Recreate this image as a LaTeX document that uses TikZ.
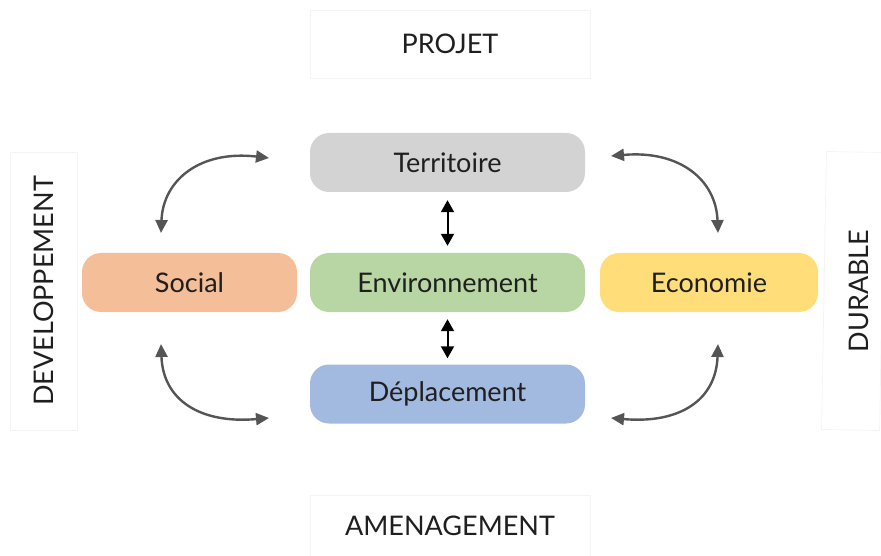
\documentclass[tikz,border=0pt]{standalone}
\usepackage{fontspec}
\setmainfont{Lato}
\usetikzlibrary{arrows.meta}
\definecolor{cterr}{HTML}{D3D3D3}
\definecolor{cenv}{HTML}{B8D6A4}
\definecolor{csoc}{HTML}{F4BE98}
\definecolor{ceco}{HTML}{FFDE7A}
\definecolor{cdep}{HTML}{A2B9E0}
\definecolor{carr}{HTML}{555555}
\definecolor{cframe}{HTML}{F4F4F4}
\tikzset{
  txt/.style={font=\fontsize{27}{30}\selectfont, text=black!88},
  pill/.style={txt, rounded corners=19pt, minimum height=59pt, inner sep=0pt},
  label/.style={txt, draw=cframe, line width=0.8pt, inner sep=0pt},
  curvearr/.style={draw=carr, line width=2.4pt, {Triangle[length=13pt,width=12pt]}-{Triangle[length=13pt,width=12pt]}},
  vertarr/.style={draw=black, line width=2pt, {Triangle[length=12pt,width=13pt]}-{Triangle[length=12pt,width=13pt]}}
}
\begin{document}
\begin{tikzpicture}[x=1pt,y=-1pt]
\useasboundingbox (0,0) rectangle (881,556);
% label frames
\node[label, minimum width=280pt, minimum height=68pt] (projet) at (450,44) {PROJET};
\node[label, minimum width=280pt, minimum height=62pt] (amen) at (450,526) {AMENAGEMENT};
\node[label, minimum width=67pt, minimum height=278pt] (devframe) at (43.5,291) {};
\node[txt, rotate=90] (dev) at (43.5,291) {DEVELOPPEMENT};
\node[label, minimum width=58pt, minimum height=278pt, rotate=-1] (durframe) at (853,291) {};
\node[txt, rotate=90] (dur) at (859,291) {DURABLE};
% pills
\node[pill, fill=cterr, minimum width=275pt] (terr) at (447.5,162.5) {Territoire};
\node[pill, fill=cenv, minimum width=275pt] (env) at (447.5,282.5) {Environnement};
\node[pill, fill=csoc, minimum width=215pt] (soc) at (189.5,282.5) {Social};
\node[pill, fill=ceco, minimum width=218pt] (eco) at (709,282.5) {Economie};
\node[pill, fill=cdep, minimum width=275pt] (dep) at (447.5,394) {Déplacement};
% curve endpoints
\coordinate (tl1) at (161,233);
\coordinate (tl2) at (269,158);
\coordinate (tr1) at (611,156);
\coordinate (tr2) at (718,233);
\coordinate (bl1) at (161,344);
\coordinate (bl2) at (269,418);
\coordinate (br1) at (611,418);
\coordinate (br2) at (718,344);
\draw[curvearr] (tl1) .. controls (163,180) and (200,150) .. (tl2);
\draw[curvearr] (tr1) .. controls (680,150) and (716,180) .. (tr2);
\draw[curvearr] (bl1) .. controls (163,400) and (200,424) .. (bl2);
\draw[curvearr] (br1) .. controls (680,424) and (716,400) .. (br2);
% vertical arrows
\draw[vertarr] ([yshift=-8pt]terr.south) -- ([yshift=7pt]env.north);
\draw[vertarr] ([yshift=-7pt]env.south) -- ([yshift=6pt]dep.north);
\end{tikzpicture}
\end{document}
